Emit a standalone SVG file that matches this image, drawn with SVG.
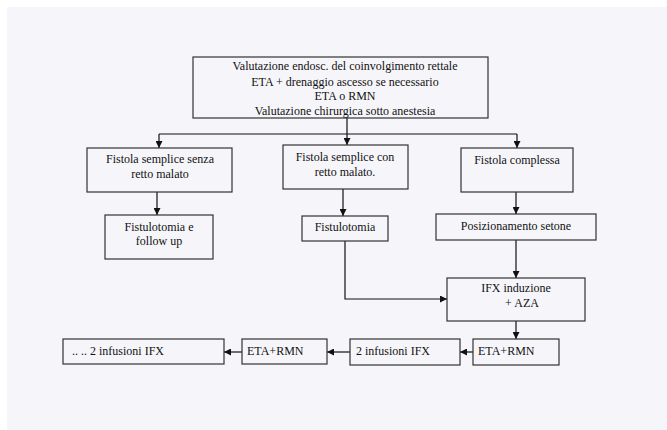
<svg xmlns="http://www.w3.org/2000/svg" width="667" height="430" viewBox="0 0 667 430">
  <style>
    .box { fill: #f6f6fa; stroke: #333; stroke-width: 1.2; }
    .line { fill: none; stroke: #111; stroke-width: 1.2; }
    text { font-family: "Liberation Serif", "Times New Roman", serif; font-size: 12px; fill: #111; }
    .c { text-anchor: middle; }
  </style>
  <defs>
    <marker id="arrow" viewBox="0 0 10 10" refX="10" refY="5" markerWidth="7" markerHeight="7" markerUnits="userSpaceOnUse" orient="auto">
      <path d="M0,0 L10,5 L0,10 z" fill="#111"/>
    </marker>
  </defs>

  <rect x="0" y="0" width="667" height="430" fill="#ffffff"/>
  <rect x="7" y="7" width="660" height="423" fill="#f6f6fa"/>

  <g id="connectors">
    <path class="line" d="M347,118 V145" marker-end="url(#arrow)"/>
    <path class="line" d="M159,134 H517"/>
    <path class="line" d="M159,134 V148" marker-end="url(#arrow)"/>
    <path class="line" d="M517,134 V148" marker-end="url(#arrow)"/>
    <path class="line" d="M157,192 V215" marker-end="url(#arrow)"/>
    <path class="line" d="M343,189 V216" marker-end="url(#arrow)"/>
    <path class="line" d="M516,192 V214" marker-end="url(#arrow)"/>
    <path class="line" d="M345,241 V299 H447" marker-end="url(#arrow)"/>
    <path class="line" d="M516,240 V278" marker-end="url(#arrow)"/>
    <path class="line" d="M516,321 V339" marker-end="url(#arrow)"/>
    <path class="line" d="M473,352 H460" marker-end="url(#arrow)"/>
    <path class="line" d="M350,352 H327" marker-end="url(#arrow)"/>
    <path class="line" d="M242,352 H224" marker-end="url(#arrow)"/>
  </g>

  <g id="valutazione">
    <rect class="box" x="193" y="57" width="295" height="61"/>
    <text class="c" x="345" y="70">Valutazione endosc. del coinvolgimento rettale</text>
    <text class="c" x="345" y="86">ETA + drenaggio ascesso se necessario</text>
    <text class="c" x="345" y="100">ETA o RMN</text>
    <text class="c" x="345" y="115">Valutazione chirurgica sotto anestesia</text>
  </g>

  <g id="fistola-senza">
    <rect class="box" x="87" y="148" width="145" height="44"/>
    <text class="c" x="160" y="163">Fistola semplice senza</text>
    <text class="c" x="160" y="178">retto malato</text>
  </g>

  <g id="fistola-con">
    <rect class="box" x="283" y="145" width="125" height="44"/>
    <text class="c" x="345" y="161">Fistola semplice con</text>
    <text class="c" x="345" y="176">retto malato.</text>
  </g>

  <g id="fistola-complessa">
    <rect class="box" x="461" y="148" width="112" height="44"/>
    <text class="c" x="517" y="164">Fistola complessa</text>
  </g>

  <g id="fistulotomia-follow">
    <rect class="box" x="105" y="215" width="108" height="44"/>
    <text class="c" x="159" y="231">Fistulotomia e</text>
    <text class="c" x="159" y="245">follow up</text>
  </g>

  <g id="fistulotomia">
    <rect class="box" x="302" y="216" width="86" height="25"/>
    <text class="c" x="345" y="231">Fistulotomia</text>
  </g>

  <g id="setone">
    <rect class="box" x="436" y="214" width="160" height="26"/>
    <text class="c" x="516" y="230">Posizionamento setone</text>
  </g>

  <g id="ifx-induzione">
    <rect class="box" x="447" y="278" width="138" height="43"/>
    <text class="c" x="516" y="292">IFX induzione</text>
    <text class="c" x="522" y="307">+ AZA</text>
  </g>

  <g id="eta-rmn-1">
    <rect class="box" x="473" y="339" width="86" height="26"/>
    <text x="478" y="355">ETA+RMN</text>
  </g>

  <g id="infusioni-1">
    <rect class="box" x="350" y="339" width="110" height="26"/>
    <text x="356" y="355">2 infusioni IFX</text>
  </g>

  <g id="eta-rmn-2">
    <rect class="box" x="242" y="339" width="85" height="25"/>
    <text x="247" y="355">ETA+RMN</text>
  </g>

  <g id="infusioni-2">
    <rect class="box" x="63" y="339" width="161" height="25"/>
    <text x="72" y="355">.. .. 2 infusioni IFX</text>
  </g>
</svg>
